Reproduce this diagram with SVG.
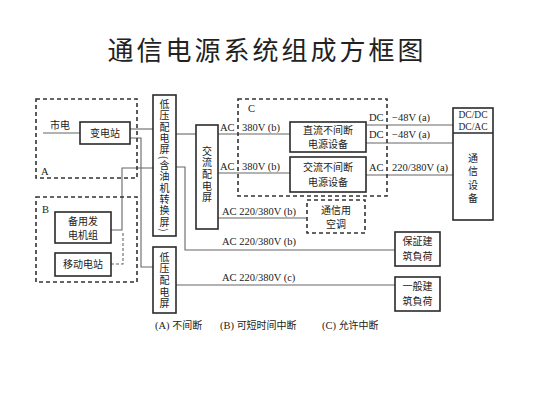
<svg xmlns="http://www.w3.org/2000/svg" width="533" height="400" viewBox="0 0 533 400">
<style>
text{font-family:"Liberation Serif","Noto Sans CJK SC",serif;fill:#222;font-size:10.5px}
.cj{font-family:"Noto Sans CJK SC",sans-serif;font-size:10px}
.mid{text-anchor:middle}
.vt{font-family:"Noto Sans CJK SC",sans-serif;font-size:10px;writing-mode:vertical-rl;text-anchor:middle}
.box{fill:none;stroke:#2a2a2a;stroke-width:1.6}
.dash{fill:none;stroke:#333;stroke-width:1.6;stroke-dasharray:4 3}
.ln{fill:none;stroke:#666;stroke-width:1.1}
.dl{fill:none;stroke:#666;stroke-width:1.1;stroke-dasharray:3 2}
.title{font-family:"Noto Sans CJK SC",sans-serif;font-size:26px;font-weight:400;letter-spacing:3px;text-anchor:middle}
</style>
<rect width="533" height="400" fill="#fff"/>
<text class="title" x="267" y="60">通信电源系统组成方框图</text>

<g id="connectors">
<path class="ln" d="M43,133H80"/>
<path class="ln" d="M130,129H153"/>
<path class="ln" d="M130,138H141V267H153"/>
<path class="ln" d="M176,134H196"/>
<path class="ln" d="M218,134H290"/>
<path class="ln" d="M218,173H290"/>
<path class="ln" d="M366,125H453"/>
<path class="ln" d="M366,143H453"/>
<path class="ln" d="M366,175H453"/>
<path class="ln" d="M218,218H307"/>
<path class="ln" d="M176,167H185V250H395"/>
<path class="ln" d="M176,285H395"/>
<path class="ln" d="M111,230H122V168H153"/>
<path class="dl" d="M111,264H123V231"/>
</g>

<g id="groupA">
<rect class="dash" x="36" y="99" width="101" height="79"/>
<text x="41" y="175">A</text>
<text class="cj" x="50" y="129">市电</text>
</g>
<g id="groupB">
<rect class="dash" x="36" y="197" width="101" height="85"/>
<text x="42" y="213">B</text>
</g>
<g id="groupC">
<rect class="dash" x="238" y="99" width="149" height="97"/>
<text x="248" y="112">C</text>
</g>

<g id="substation">
<rect class="box" x="80" y="122" width="50" height="22"/>
<text class="cj mid" x="105" y="137">变电站</text>
</g>
<g id="generator">
<rect class="box" x="55" y="212" width="56" height="31"/>
<text class="cj mid"><tspan x="83" y="224.5">备用发</tspan><tspan x="83" y="239">电机组</tspan></text>
</g>
<g id="mobile">
<rect class="box" x="55" y="253" width="56" height="23"/>
<text class="cj mid" x="83" y="268">移动电站</text>
</g>

<g id="panel1">
<rect class="box" x="153" y="95" width="23" height="141"/>
<text class="vt" x="164.5" y="166" style="letter-spacing:1.3px">低压配电屏(含油机转换屏)</text>
</g>
<g id="panel2">
<rect class="box" x="153" y="247" width="23" height="66"/>
<text class="vt" x="164.5" y="281" style="letter-spacing:1.6px">低压配电屏</text>
</g>
<g id="acpanel">
<rect class="box" x="196" y="125" width="22" height="104"/>
<text class="vt" x="207" y="175" style="letter-spacing:1.6px">交流配电屏</text>
</g>

<g id="dcups">
<rect class="box" x="290" y="122" width="76" height="30"/>
<text class="cj mid"><tspan x="328" y="133.5">直流不间断</tspan><tspan x="328" y="148">电源设备</tspan></text>
</g>
<g id="acups">
<rect class="box" x="290" y="157" width="76" height="35"/>
<text class="cj mid"><tspan x="328" y="171">交流不间断</tspan><tspan x="328" y="185.5">电源设备</tspan></text>
</g>
<g id="aircon">
<rect class="dash" x="307" y="200" width="58" height="33"/>
<text class="cj mid"><tspan x="336" y="213.5">通信用</tspan><tspan x="336" y="228">空调</tspan></text>
</g>
<g id="telecom">
<rect class="box" x="453" y="108" width="40" height="112"/>
<path class="box" d="M453,133H493"/>
<text class="mid" style="font-size:9.5px"><tspan x="473" y="118">DC/DC</tspan><tspan x="473" y="130">DC/AC</tspan></text>
<text class="vt" x="473" y="180" style="letter-spacing:3.5px">通信设备</text>
</g>
<g id="guaranteed">
<rect class="box" x="395" y="232" width="45" height="34"/>
<text class="cj mid"><tspan x="417.5" y="245">保証建</tspan><tspan x="417.5" y="259.5">筑負荷</tspan></text>
</g>
<g id="general">
<rect class="box" x="395" y="277" width="45" height="34"/>
<text class="cj mid"><tspan x="417.5" y="290">一般建</tspan><tspan x="417.5" y="304.5">筑負荷</tspan></text>
</g>

<g id="labels">
<text x="220" y="131">AC</text>
<text x="242" y="131">380V (b)</text>
<text x="220" y="170">AC</text>
<text x="242" y="170">380V (b)</text>
<text x="369" y="121">DC</text>
<text x="392" y="121">−48V (a)</text>
<text x="369" y="138">DC</text>
<text x="392" y="138">−48V (a)</text>
<text x="369" y="171">AC</text>
<text x="392" y="171">220/380V (a)</text>
<text x="222" y="215">AC 220/380V (b)</text>
<text x="222" y="245">AC 220/380V (b)</text>
<text x="222" y="281">AC 220/380V (c)</text>
<text x="155" y="329">(A) <tspan class="cj">不间断</tspan></text>
<text x="220" y="329">(B) <tspan class="cj">可短时间中断</tspan></text>
<text x="322" y="329">(C) <tspan class="cj">允许中断</tspan></text>
</g>
</svg>
